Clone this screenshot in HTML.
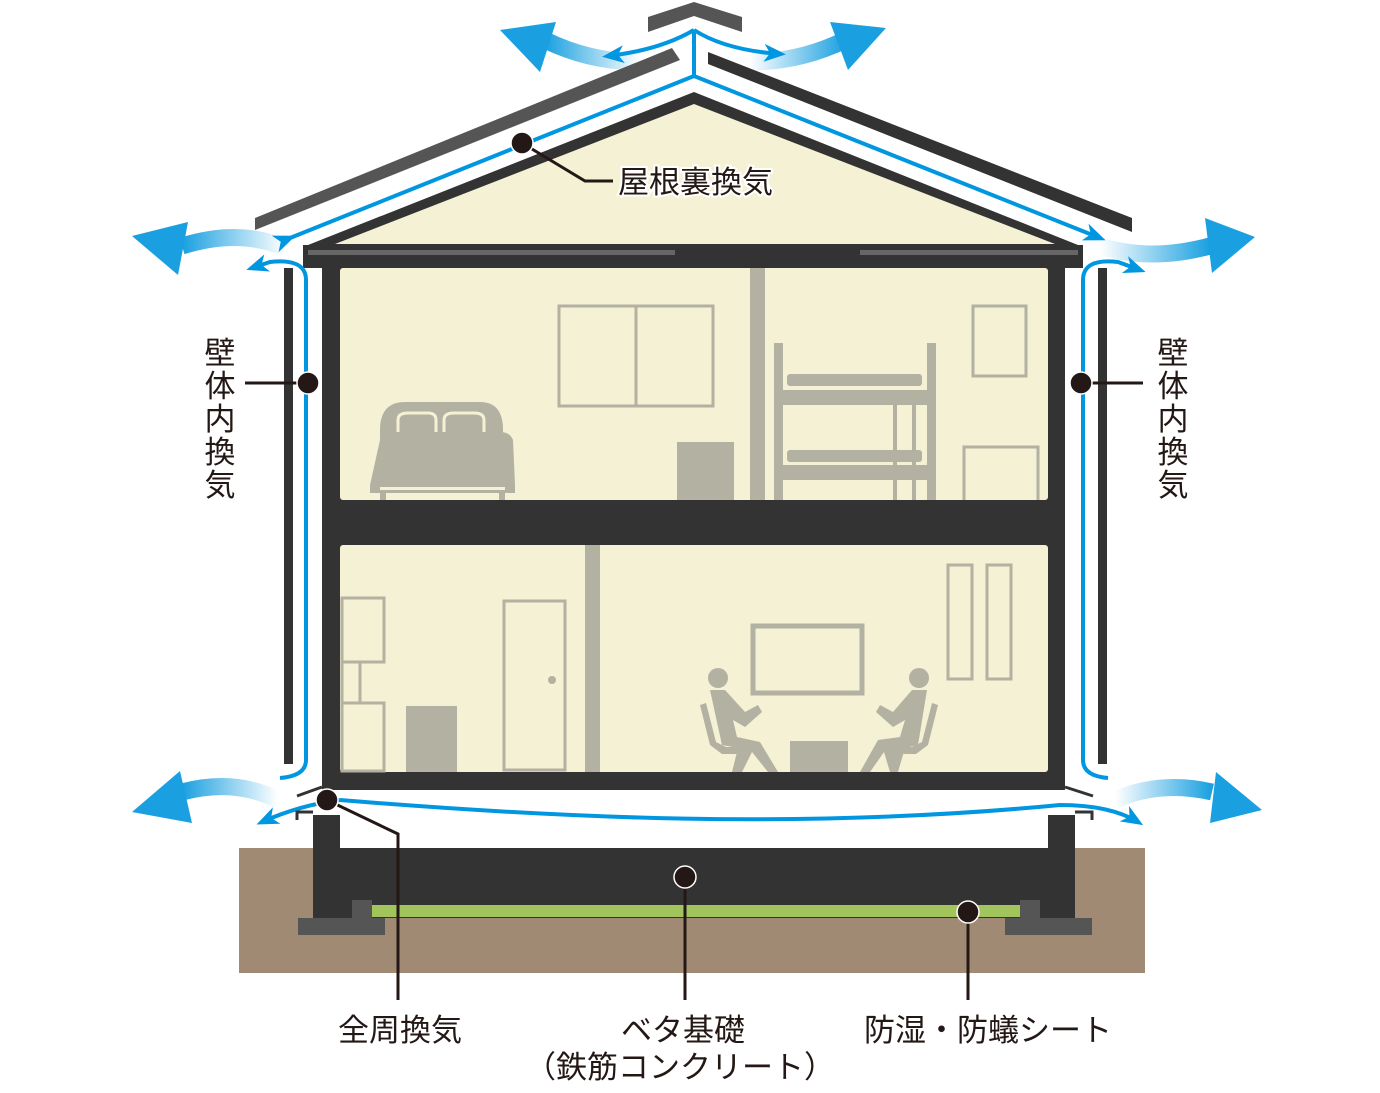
<!DOCTYPE html>
<html><head><meta charset="utf-8"><style>
html,body{margin:0;padding:0;background:#fff}
svg{display:block}
text{font-family:"Liberation Sans","Noto Sans CJK JP",sans-serif;fill:#231815}
</style></head><body>
<svg width="1380" height="1093" viewBox="0 0 1380 1093" xmlns="http://www.w3.org/2000/svg">
<defs>
<linearGradient id="gL" x1="1" y1="0" x2="0" y2="0"><stop offset="0" stop-color="#1aa0e0" stop-opacity="0"/><stop offset="1" stop-color="#1aa0e0"/></linearGradient>
<linearGradient id="gR" x1="0" y1="0" x2="1" y2="0"><stop offset="0" stop-color="#1aa0e0" stop-opacity="0"/><stop offset="1" stop-color="#1aa0e0"/></linearGradient>
<marker id="ah" markerWidth="8" markerHeight="8" refX="6" refY="4" orient="auto" markerUnits="userSpaceOnUse" viewBox="0 0 8 8"><path d="M0,0 L8,4 L0,8 L2,4Z" fill="#0097e0"/></marker>
<marker id="ah2" markerWidth="22" markerHeight="18" refX="16" refY="9" orient="auto" markerUnits="userSpaceOnUse"><path d="M0,0 L22,9 L0,18 L6,9Z" fill="#0097e0"/></marker>
</defs>

<g fill="none" stroke-width="17" stroke-linecap="butt">
<path d="M285,248 Q240,228 182,246" stroke="url(#gL)"/>
<path d="M278,800 Q235,778 182,792" stroke="url(#gL)"/>
<path d="M1100,246 Q1150,262 1210,246" stroke="url(#gR)"/>
<path d="M1115,800 Q1160,780 1212,792" stroke="url(#gR)"/>
<path d="M640,62 Q590,62 545,40" stroke="url(#gL)"/>
<path d="M750,62 Q800,62 845,40" stroke="url(#gR)"/>
</g>
<g fill="#1aa0e0">
<polygon points="132,236 188,222 178,275"/>
<polygon points="132,812 180,771 192,823"/>
<polygon points="1255,237 1205,218 1212,273"/>
<polygon points="1262,810 1216,772 1210,823"/>
<polygon points="500,30 556,22 540,72"/>
<polygon points="886,28 830,22 848,70"/>
</g>

<polygon points="255,218 672,48 680,60 255,230" fill="#555"/>
<polygon points="708,52 1132,218 1132,232 708,64" fill="#333"/>
<polygon points="648,17 694,2 742,17 742,32 694,16 648,32" fill="#555"/>
<polygon points="303,247 694,92 1083,247" fill="#333"/>
<polygon points="335,244 694,104 1055,244" fill="#f4f1d5"/>

<g fill="none" stroke="#0097e0" stroke-width="4">
<line x1="694" y1="76" x2="694" y2="30"/>
<path d="M694,30 Q660,50 608,56" marker-end="url(#ah2)"/>
<path d="M694,30 Q725,50 780,54" marker-end="url(#ah2)"/>
</g>
<polyline points="290,238 694,76" fill="none" stroke="#0097e0" stroke-width="4" marker-start="url(#ah2)" />
<line x1="694" y1="76" x2="1100" y2="238" stroke="#0097e0" stroke-width="4" marker-end="url(#ah2)"/>

<rect x="303" y="245" width="780" height="23" fill="#333"/>
<rect x="308" y="250" width="367" height="5" fill="#666"/>
<rect x="860" y="250" width="218" height="5" fill="#666"/>
<rect x="322" y="255" width="743" height="535" fill="#333"/>
<rect x="340" y="268" width="708" height="232" rx="3" fill="#f4f1d5"/>
<rect x="340" y="545" width="708" height="227" rx="3" fill="#f4f1d5"/>

<g fill="#b3b1a1">
<rect x="750" y="268" width="15" height="232"/>
<rect x="677" y="442" width="57" height="58"/>
<path d="M380,440 L380,430 Q380,402 405,402 L480,402 Q503,402 503,430 L503,440Z"/>
<path d="M370,485 L380,440 Q385,432 400,432 L500,432 Q510,432 513,440 L515,485Z"/>
<rect x="370" y="485" width="145" height="8"/>
<rect x="380" y="490" width="6" height="10"/><rect x="499" y="490" width="6" height="10"/>
<rect x="774" y="343" width="9" height="157"/><rect x="927" y="343" width="9" height="157"/>
<rect x="774" y="390" width="162" height="15"/><rect x="774" y="465" width="162" height="15"/>
<rect x="787" y="374" width="135" height="12" rx="3"/><rect x="787" y="450" width="135" height="12" rx="3"/>
<rect x="893" y="405" width="4" height="95"/><rect x="912" y="405" width="4" height="95"/>
<rect x="585" y="545" width="15" height="227"/>
<rect x="406" y="706" width="51" height="66"/>
<circle cx="552" cy="680" r="4"/>
<rect x="790" y="741" width="58" height="31"/>
<circle cx="718" cy="678" r="10"/><circle cx="919" cy="678" r="10"/>
<path d="M710,690 L725,690 L745,712 L758,705 L762,712 L745,727 L733,720 L737,737 L760,742 L778,772 L768,772 L752,752 L742,772 L732,772 L738,748 L722,745 Z"/>
<path d="M927,690 L912,690 L893,712 L880,705 L876,712 L893,727 L905,720 L900,737 L878,740 L860,772 L870,772 L884,752 L890,772 L898,772 L905,748 L918,745 Z"/>
<path d="M700,705 L706,703 L716,742 L726,747 L740,747 L740,754 L722,754 L710,745Z"/>
<path d="M938,705 L932,703 L922,742 L912,747 L896,747 L896,754 L916,754 L928,745Z"/>
</g>
<rect x="380" y="487" width="125" height="3" fill="#f4f1d5"/>
<g fill="none" stroke="#b3b1a1" stroke-width="3">
<rect x="559" y="306" width="154" height="100"/><line x1="636" y1="306" x2="636" y2="406"/>
<rect x="973" y="306" width="53" height="70"/>
<path d="M964,500 L964,447 L1038,447 L1038,500"/>
<path d="M398,432 L398,420 Q398,413 408,413 L428,413 Q436,413 436,420 L436,432 M444,432 L444,420 Q444,413 454,413 L474,413 Q484,413 484,420 L484,432" stroke="#f4f1d5" stroke-width="3"/>
<rect x="342" y="598" width="42" height="64"/><rect x="342" y="662" width="18" height="41"/><rect x="342" y="703" width="42" height="68"/>
<rect x="504" y="601" width="61" height="169"/>
<rect x="753" y="626" width="109" height="67" stroke-width="5"/>
<rect x="948" y="565" width="24" height="114"/><rect x="987" y="565" width="24" height="114"/>
</g>

<rect x="284" y="268" width="9" height="496" fill="#333"/>
<rect x="1098" y="268" width="9" height="496" fill="#333"/>
<line x1="297" y1="796" x2="322" y2="787" stroke="#333" stroke-width="3"/>
<line x1="1065" y1="787" x2="1093" y2="796" stroke="#333" stroke-width="3"/>
<g fill="none" stroke="#0097e0" stroke-width="4">
<path d="M280,778 Q306,776 306,760 L306,280 Q306,258 270,262 L252,268" marker-end="url(#ah2)"/>
<path d="M1108,778 Q1083,776 1083,760 L1083,280 Q1083,258 1118,262 L1140,270" marker-end="url(#ah2)"/>
<path d="M340,800 Q300,805 262,822" marker-end="url(#ah2)"/>
<path d="M340,800 C560,818 800,830 1060,805 Q1110,805 1138,822" marker-end="url(#ah2)"/>
</g>

<rect x="239" y="848" width="906" height="125" fill="#a08a73"/>
<rect x="313" y="848" width="762" height="70" fill="#333"/>
<rect x="313" y="815" width="27" height="40" fill="#333"/>
<rect x="1048" y="815" width="27" height="40" fill="#333"/>
<path d="M297,820 L297,812 L313,812" fill="none" stroke="#333" stroke-width="3"/>
<path d="M1092,820 L1092,812 L1075,812" fill="none" stroke="#333" stroke-width="3"/>
<rect x="372" y="905" width="648" height="12" fill="#a2c45d"/>
<rect x="298" y="918" width="87" height="17" fill="#555"/><rect x="352" y="900" width="20" height="18" fill="#555"/>
<rect x="1005" y="918" width="87" height="17" fill="#555"/><rect x="1020" y="900" width="20" height="18" fill="#555"/>

<g stroke="#231815" stroke-width="3" fill="none">
<polyline points="522,143 585,181 613,181"/>
<line x1="308" y1="383" x2="245" y2="383"/>
<line x1="1081" y1="383" x2="1143" y2="383"/>
<polyline points="327,800 398,834 398,1000"/>
<line x1="685" y1="877" x2="685" y2="1000"/>
<line x1="968" y1="912" x2="968" y2="1000"/>
</g>
<g fill="#231815" stroke="#fff" stroke-width="1.5">
<circle cx="522" cy="143" r="11"/><circle cx="308" cy="383" r="11"/><circle cx="1081" cy="383" r="11"/>
<circle cx="327" cy="800" r="11"/><circle cx="685" cy="877" r="11"/><circle cx="968" cy="912" r="11"/>
</g>

<text x="618" y="193" font-size="31" stroke="#fff" stroke-width="4" paint-order="stroke">屋根裏換気</text>
<g font-size="31" text-anchor="middle">
<text x="220" y="364">壁</text><text x="220" y="397">体</text><text x="220" y="430">内</text><text x="220" y="463">換</text><text x="220" y="496">気</text>
<text x="1173" y="364">壁</text><text x="1173" y="397">体</text><text x="1173" y="430">内</text><text x="1173" y="463">換</text><text x="1173" y="496">気</text>
<text x="400" y="1041">全周換気</text>
<text x="683" y="1041">ベタ基礎</text>
<text x="680" y="1078">（鉄筋コンクリート）</text>
<text x="988" y="1041">防湿・防蟻シート</text>
</g>
</svg>
</body></html>
